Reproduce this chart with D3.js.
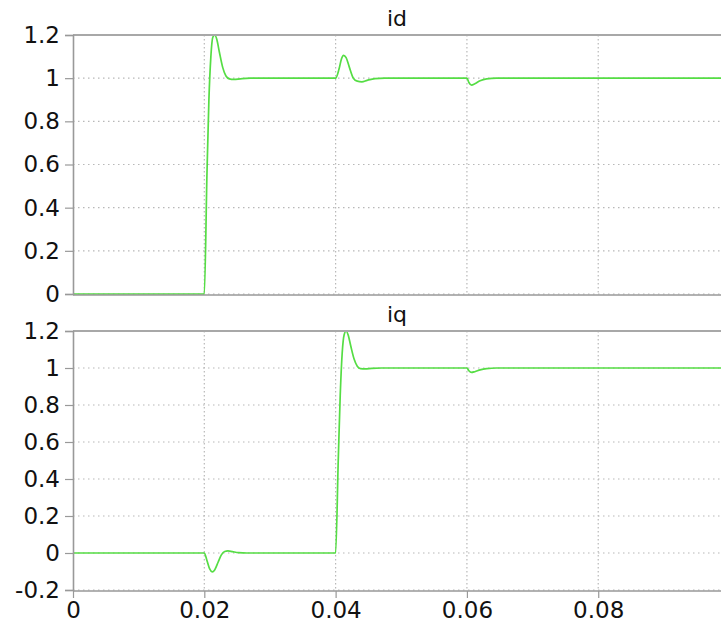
<!DOCTYPE html>
<html>
<head>
<meta charset="utf-8">
<script src="https://cdn.jsdelivr.net/npm/d3@7"></script>
<style>
  body { margin: 0; background: #fff; }
  svg { display: block; }
  .tick text { font-family: "DejaVu Sans", Verdana, sans-serif; font-size: 23px; fill: #111; }
  .title { font-family: "DejaVu Sans", Verdana, sans-serif; font-size: 22px; fill: #111; }
</style>
</head>
<body>
<div id="chart"></div>
<script>
// time axis (s)
let xTicks = [0, 0.02, 0.04, 0.06, 0.08];
let tMax = 0.0987;

// id trace
let idTime = [0, 0.0200, 0.0204, 0.0207, 0.0210, 0.0213, 0.0216, 0.0219, 0.0223, 0.0228, 0.0233, 0.0238, 0.0245, 0.0255, 0.0270,
    0.0400, 0.0405, 0.0409, 0.0412, 0.0416, 0.0421, 0.0427, 0.0433, 0.0440, 0.0448, 0.0460, 0.0475,
    0.0600, 0.0603, 0.0607, 0.0612, 0.0620, 0.0630, 0.0645, 0.0987];
let idValue = [0, 0, 0.55, 0.9, 1.1, 1.19, 1.2, 1.18, 1.12, 1.05, 1.01, 0.997, 0.994, 0.997, 1.0,
    1.0, 1.04, 1.09, 1.106, 1.095, 1.05, 1.0, 0.986, 0.983, 0.99, 0.998, 1.0,
    1.0, 0.98, 0.968, 0.974, 0.988, 0.997, 1.0, 1.0];
let idTicks = [0, 0.2, 0.4, 0.6, 0.8, 1, 1.2];

// iq trace
let iqTime = [0, 0.0200, 0.0204, 0.0208, 0.0212, 0.0216, 0.0221, 0.0226, 0.0231, 0.0236, 0.0243, 0.0252, 0.0265,
    0.0400, 0.0404, 0.0407, 0.0410, 0.0413, 0.0416, 0.0419, 0.0423, 0.0428, 0.0433, 0.0438, 0.0445, 0.0455, 0.0470,
    0.0600, 0.0603, 0.0607, 0.0612, 0.0620, 0.0630, 0.0645, 0.0987];
let iqValue = [0, 0, -0.04, -0.085, -0.102, -0.09, -0.05, -0.01, 0.008, 0.011, 0.007, 0.002, 0,
    0, 0.5, 0.85, 1.08, 1.18, 1.2, 1.18, 1.12, 1.05, 1.01, 0.997, 0.995, 0.998, 1.0,
    1.0, 0.985, 0.976, 0.98, 0.99, 0.997, 1.0, 1.0];
let iqTicks = [-0.2, 0, 0.2, 0.4, 0.6, 0.8, 1, 1.2];

let width = 721, height = 628;
let left = 73, right = 721;

let svg = d3.select("#chart").append("svg")
    .attr("width", width)
    .attr("height", height);

let xScale = d3.scaleLinear().domain([0, tMax]).range([left, right]);
let fmt = d => String(+d.toFixed(2));

function panel(title, times, values, ticks, yDomain, top, bottom, showX) {
    let yScale = d3.scaleLinear().domain(yDomain).range([bottom, top]);
    let g = svg.append("g");

    // dotted grid
    g.append("g").selectAll("line.h").data(ticks).enter().append("line")
        .attr("x1", left).attr("x2", right)
        .attr("y1", d => yScale(d)).attr("y2", d => yScale(d))
        .attr("stroke", "#b8b8b8").attr("stroke-width", 1.2)
        .attr("stroke-dasharray", "1.5,3.5");
    g.append("g").selectAll("line.v").data(xTicks.filter(d => d > 0)).enter().append("line")
        .attr("x1", d => xScale(d)).attr("x2", d => xScale(d))
        .attr("y1", top).attr("y2", bottom)
        .attr("stroke", "#b8b8b8").attr("stroke-width", 1.2)
        .attr("stroke-dasharray", "1.5,2.5");

    // trace
    let line = d3.line()
        .x(i => xScale(times[i]))
        .y(i => yScale(values[i]))
        .curve(d3.curveMonotoneX);
    g.append("path")
        .attr("d", line(d3.range(times.length)))
        .attr("fill", "none")
        .attr("stroke", "#55dd44")
        .attr("stroke-width", 1.7);

    // frame lines
    g.append("line").attr("x1", left).attr("x2", right).attr("y1", top).attr("y2", top)
        .attr("stroke", "#a8a8a8").attr("stroke-width", 2);
    g.append("line").attr("x1", left).attr("x2", right).attr("y1", bottom + 1).attr("y2", bottom + 1)
        .attr("stroke", "#999").attr("stroke-width", 1.6);

    // y axis
    let yAxis = g.append("g")
        .attr("transform", "translate(" + left + ",0)")
        .call(d3.axisLeft(yScale).tickValues(ticks).tickFormat(fmt).tickSize(8).tickPadding(5));
    yAxis.select(".domain").attr("stroke", "#999").attr("stroke-width", 1.6);
    yAxis.selectAll(".tick line").attr("stroke", "#999").attr("stroke-width", 1.2);

    if (showX) {
        let xAxis = g.append("g")
            .attr("transform", "translate(0," + (bottom + 1) + ")")
            .call(d3.axisBottom(xScale).tickValues(xTicks).tickFormat(fmt).tickSize(7).tickPadding(4));
        xAxis.select(".domain").remove();
        xAxis.selectAll(".tick line").attr("stroke", "#999").attr("stroke-width", 1.2);
    }

    svg.append("text").classed("title", true)
        .attr("x", 397).attr("y", top - 9)
        .attr("text-anchor", "middle")
        .text(title);
}

panel("id", idTime, idValue, idTicks, [0, 1.2], 35, 294, false);
panel("iq", iqTime, iqValue, iqTicks, [-0.2, 1.2], 331, 590, true);
</script>
</body>
</html>
